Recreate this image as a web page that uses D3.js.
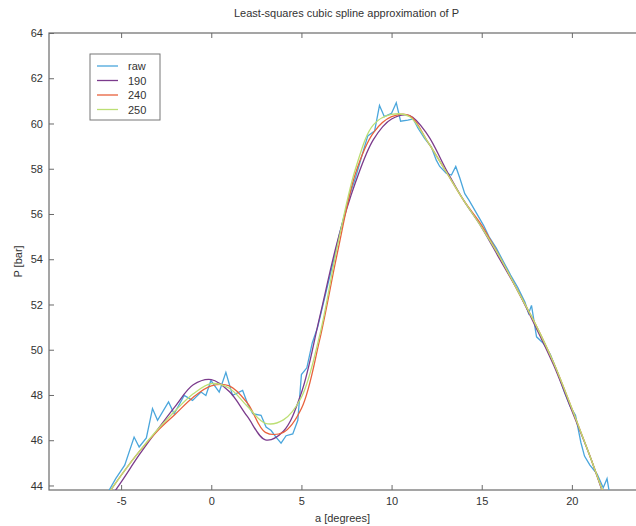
<!DOCTYPE html>
<html>
<head>
<meta charset="utf-8">
<script src="https://cdn.jsdelivr.net/npm/d3@7"></script>
<style>
body { margin: 0; background: #fff; }
svg { display: block; font-family: "Liberation Sans", Arial, sans-serif; }
</style>
</head>
<body>
<div id="chart"></div>
<script>
// raw measurements (angle, pressure)
var rawA = [-5.8, -5.3, -4.8, -4.28, -4.0, -3.6, -3.26, -2.98, -2.37, -2.06, -1.5, -1.04, -0.57, -0.3, -0.02,
    0.44, 0.81, 1.18, 1.74, 2.02, 2.3, 2.76, 3.04, 3.32, 3.59, 3.87, 4.15, 4.52, 4.8, 5.0,
    5.3, 5.6, 5.9, 6.2, 6.5, 6.8, 7.1, 7.4, 7.7, 8.0, 8.4, 8.68, 9.06, 9.33, 9.6,
    10.0, 10.26, 10.5, 10.9, 11.2, 11.46, 11.83, 12.2, 12.48, 12.67, 13.04, 13.32, 13.56, 13.78, 14.06,
    14.3, 14.7, 15.1, 15.4, 15.8, 16.2, 16.6, 17.0, 17.4, 17.6, 17.76, 18.04, 18.4, 18.8, 19.2,
    19.6, 19.9, 20.2, 20.5, 20.7, 21.0, 21.4, 21.74, 21.95, 22.1];
var rawP = [43.6, 44.3, 44.9, 46.14, 45.7, 46.1, 47.4, 46.88, 47.69, 47.17, 47.98, 47.76, 48.13, 47.98, 48.64,
    48.13, 49.0, 47.98, 48.2, 47.6, 47.17, 47.1, 46.58, 46.43, 46.14, 45.87, 46.2, 46.28, 46.88, 48.9,
    49.2, 50.3, 51.0, 52.0, 53.0, 54.0, 55.1, 56.0, 56.9, 57.6, 58.7, 59.45, 59.67, 60.8, 60.3,
    60.45, 60.92, 60.1, 60.15, 60.2, 59.8, 59.34, 58.97, 58.38, 58.1, 57.79, 57.72, 58.1, 57.6, 56.9,
    56.6, 56.05, 55.5, 55.0, 54.5, 53.9, 53.3, 52.75, 52.1, 51.6, 51.96, 50.57, 50.3, 49.8, 49.0,
    48.1, 47.5, 47.1, 45.9, 45.3, 44.9, 44.5, 43.9, 44.3, 43.6];

// spline fits, sampled every degree
var splineA = [-6, -5, -4, -3, -2, -1, 0, 1, 2, 3, 4, 5, 6, 7, 8, 9, 10, 11, 12, 13, 14, 15, 16, 17, 18, 19, 20, 21, 22];
var p190 = [43.0, 44.15, 45.35, 46.45, 47.5, 48.45, 48.68, 48.15, 47.05, 46.02, 46.4, 48.1, 51.4, 54.8, 57.4,
    59.3, 60.2, 60.35, 59.5, 58.0, 56.6, 55.4, 54.0, 52.6, 51.0, 49.3, 47.3, 45.3, 43.0];
var p240 = [43.3, 44.45, 45.5, 46.4, 47.15, 47.9, 48.4, 48.4, 47.65, 46.35, 46.35, 47.4, 50.4, 54.3, 57.8,
    59.6, 60.3, 60.35, 59.2, 57.9, 56.6, 55.5, 54.1, 52.6, 51.1, 49.4, 47.4, 45.3, 43.1];
var p250 = [43.3, 44.45, 45.5, 46.45, 47.3, 48.05, 48.5, 48.3, 47.5, 46.75, 46.9, 47.9, 50.6, 54.6, 58.0,
    59.95, 60.4, 60.3, 59.2, 57.9, 56.6, 55.4, 54.1, 52.6, 51.1, 49.4, 47.4, 45.3, 43.1];

var seriesNames = ['raw', '190', '240', '250'];
var seriesColors = ['#4aa6dc', '#7b3b8c', '#e8613c', '#bcdf74'];
var xTicks = [-5, 0, 5, 10, 15, 20];
var yTicks = [44, 46, 48, 50, 52, 54, 56, 58, 60, 62, 64];

var svgWidth = 636;
var svgHeight = 526;
var margin = ({top: 33, right: -8, bottom: 36, left: 49});

var svg = d3.select("#chart")
    .append("svg")
    .attr("width", svgWidth)
    .attr("height", svgHeight);

var xScale = d3.scaleLinear()
    .domain([-9, 24])
    .range([margin.left, svgWidth - margin.right]);

var yScale = d3.scaleLinear()
    .domain([43.8, 64])
    .range([svgHeight - margin.bottom, margin.top]);

svg.append("clipPath")
    .attr("id", "plotClip")
    .append("rect")
    .attr("x", margin.left)
    .attr("y", margin.top)
    .attr("width", xScale.range()[1] - margin.left)
    .attr("height", yScale.range()[0] - margin.top);

var axisColor = '#6a6a6a';
var textColor = '#333';

// ticks point inward like matlab, plain hyphen for negatives
var xAxis = svg.append("g")
    .attr("transform", "translate(0," + yScale.range()[0] + ")")
    .call(d3.axisBottom(xScale).tickValues(xTicks).tickFormat(d => String(d))
        .tickSizeInner(-5).tickSizeOuter(0).tickPadding(7));

var xAxisTop = svg.append("g")
    .attr("transform", "translate(0," + margin.top + ")")
    .call(d3.axisTop(xScale).tickValues(xTicks).tickSizeInner(-5).tickSizeOuter(0).tickFormat(""));

var yAxis = svg.append("g")
    .attr("transform", "translate(" + margin.left + ",0)")
    .call(d3.axisLeft(yScale).tickValues(yTicks).tickFormat(d => String(d))
        .tickSizeInner(-5).tickSizeOuter(0).tickPadding(6));

svg.selectAll(".domain").remove();
svg.selectAll(".tick line").attr("stroke", axisColor);
svg.selectAll(".tick text")
    .attr("fill", textColor)
    .attr("font-size", 11)
    .attr("font-family", '"Liberation Sans", Arial, sans-serif');

// axes box
svg.append("rect")
    .attr("x", margin.left)
    .attr("y", margin.top)
    .attr("width", xScale.range()[1] - margin.left)
    .attr("height", yScale.range()[0] - margin.top)
    .attr("fill", "none")
    .attr("stroke", axisColor)
    .attr("stroke-width", 1.2);

var plot = svg.append("g").attr("clip-path", "url(#plotClip)");

var rawLine = d3.line()
    .x((d, i) => xScale(rawA[i]))
    .y(d => yScale(d));

var fitLine = d3.line()
    .x((d, i) => xScale(splineA[i]))
    .y(d => yScale(d))
    .curve(d3.curveCatmullRom.alpha(0.5));

plot.append("path")
    .datum(rawP)
    .attr("d", rawLine)
    .attr("fill", "none")
    .attr("stroke", seriesColors[0])
    .attr("stroke-width", 1.3);

var fits = [p190, p240, p250];
fits.forEach(function(f, i) {
    plot.append("path")
        .datum(f)
        .attr("d", fitLine)
        .attr("fill", "none")
        .attr("stroke", seriesColors[i + 1])
        .attr("stroke-width", 1.3);
});

// title and labels
var midX = (margin.left + xScale.range()[1]) / 2;

svg.append("text")
    .attr("x", midX)
    .attr("y", 17)
    .attr("text-anchor", "middle")
    .attr("font-size", 11)
    .attr("fill", textColor)
    .text("Least-squares cubic spline approximation of P");

svg.append("text")
    .attr("x", midX - 4)
    .attr("y", 522)
    .attr("text-anchor", "middle")
    .attr("font-size", 11)
    .attr("fill", textColor)
    .text("a [degrees]");

svg.append("text")
    .attr("transform", "translate(22," + ((margin.top + yScale.range()[0]) / 2) + ") rotate(-90)")
    .attr("text-anchor", "middle")
    .attr("font-size", 11)
    .attr("fill", textColor)
    .text("P [bar]");

// legend
var legend = svg.append("g")
    .attr("transform", "translate(90,54)");

legend.append("rect")
    .attr("width", 70)
    .attr("height", 66)
    .attr("fill", "#fff")
    .attr("stroke", "#777")
    .attr("stroke-width", 1);

legend.selectAll(".legLine")
    .data(seriesNames)
    .enter()
    .append("line")
    .attr("x1", 7)
    .attr("x2", 28)
    .attr("y1", (d, i) => 12 + i * 14.5)
    .attr("y2", (d, i) => 12 + i * 14.5)
    .attr("stroke", (d, i) => seriesColors[i])
    .attr("stroke-width", 1.3)
    .classed("legLine", true);

legend.selectAll(".legText")
    .data(seriesNames)
    .enter()
    .append("text")
    .attr("x", 38)
    .attr("y", (d, i) => 16 + i * 14.5)
    .attr("font-size", 11)
    .attr("fill", textColor)
    .text(d => d)
    .classed("legText", true);
</script>
</body>
</html>
